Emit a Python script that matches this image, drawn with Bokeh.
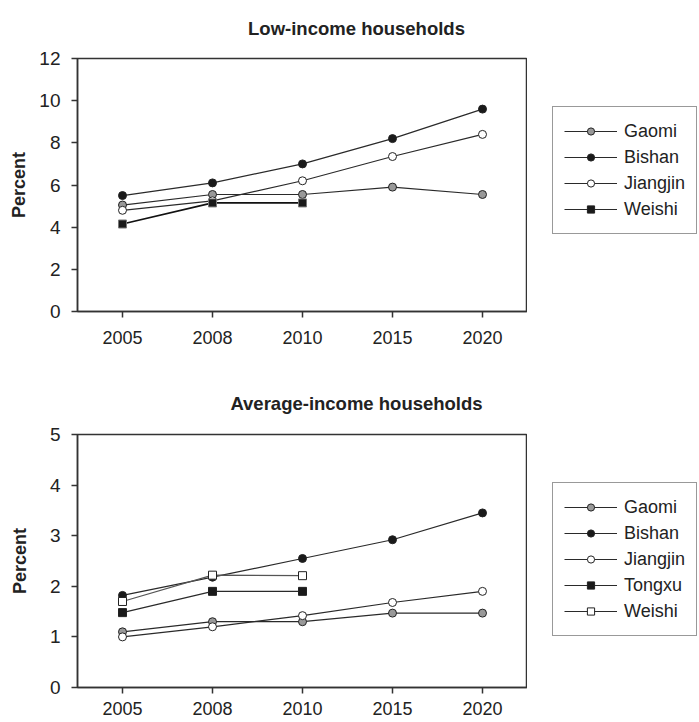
from bokeh.plotting import figure
from bokeh.models import (FactorRange, Range1d, Legend, LegendItem, FixedTicker,
                          ColumnDataSource)
from bokeh.layouts import column, row
from bokeh.core.properties import value
from bokeh.embed import file_html
from bokeh.resources import INLINE

years = ["2005", "2008", "2010", "2015", "2020"]

# Low-income households (percent)
low_gaomi = [5.05, 5.55, 5.55, 5.9, 5.55]
low_bishan = [5.5, 6.1, 7.0, 8.2, 9.6]
low_jiangjin = [4.8, 5.25, 6.2, 7.35, 8.4]
low_weishi = [4.15, 5.15, 5.15]

# Average-income households (percent)
avg_gaomi = [1.1, 1.3, 1.3, 1.47, 1.47]
avg_bishan = [1.82, 2.18, 2.55, 2.92, 3.45]
avg_jiangjin = [1.0, 1.2, 1.42, 1.68, 1.9]
avg_tongxu = [1.48, 1.9, 1.9]
avg_weishi = [1.7, 2.22, 2.21]

low_ticks = [0, 2, 4, 6, 8, 10, 12]
avg_ticks = [0, 1, 2, 3, 4, 5]

titles = ["Low-income households", "Average-income households"]

FONT = "Liberation Sans"
TXT = "#222222"
DARK = "#2a2a2a"
FS = "18px"


def blank_fig(width, height):
    p = figure(width=width, height=height, x_range=Range1d(0, width),
               y_range=Range1d(0, height), output_backend="svg",
               toolbar_location=None, x_axis_location=None, y_axis_location=None,
               min_border=0)
    p.xgrid.visible = False
    p.ygrid.visible = False
    p.outline_line_color = None
    p.background_fill_color = "white"
    p.border_fill_color = "white"
    return p


def title_strip(text, height, x, baseline):
    p = blank_fig(699, height)
    p.text(x=[x], y=[baseline], text=[text], text_font=value(FONT),
           text_font_size=value("18.5px"), text_font_style="bold",
           text_color=TXT, text_align="center", text_baseline="alphabetic")
    return p


def make_chart(height, border_top, border_bottom, ymax, ticks, label_standoff, x_standoff):
    p = figure(width=527, height=height, x_range=FactorRange(factors=years),
               y_range=Range1d(0, ymax), output_backend="svg", toolbar_location=None,
               min_border_left=77, min_border_right=0,
               min_border_top=border_top, min_border_bottom=border_bottom)
    p.xgrid.visible = False
    p.ygrid.visible = False
    p.outline_line_color = "#333333"
    p.outline_line_width = 1.5
    p.background_fill_color = "white"
    p.border_fill_color = "white"
    for ax in (p.xaxis[0], p.yaxis[0]):
        ax.axis_line_color = "#333333"
        ax.axis_line_width = 1.5
        ax.major_tick_line_color = "#333333"
        ax.major_tick_line_width = 1.5
        ax.major_tick_out = 6
        ax.major_tick_in = 0
        ax.minor_tick_line_color = None
        ax.major_label_text_font = FONT
        ax.major_label_text_font_size = FS
        ax.major_label_text_color = TXT
    p.yaxis[0].major_label_text_font_size = "19px"
    p.yaxis[0].ticker = FixedTicker(ticks=ticks)
    p.yaxis[0].major_label_standoff = 11
    p.yaxis[0].axis_label = "Percent"
    p.yaxis[0].axis_label_text_font = FONT
    p.yaxis[0].axis_label_text_font_size = FS
    p.yaxis[0].axis_label_text_font_style = "bold"
    p.yaxis[0].axis_label_text_color = TXT
    p.yaxis[0].axis_label_standoff = label_standoff
    p.xaxis[0].major_label_standoff = x_standoff
    return p


def series(p, xs, ys, marker, fill, mline="#222222", lcolor=DARK, lw=1.2):
    p.line(xs, ys, line_color=lcolor, line_width=lw)
    p.scatter(xs, ys, marker=marker, size=8, fill_color=fill,
              line_color=mline, line_width=1)


def legend_fig(height, specs, loc):
    p = blank_fig(172, height)
    items = []
    for label, marker, fill, mline, lcolor, lw in specs:
        # placeholder glyphs kept off-canvas; only their legend swatches show
        src = ColumnDataSource(data=dict(x=[-1000, -999], y=[-1000, -1000]))
        r1 = p.line("x", "y", source=src, line_color=lcolor, line_width=lw)
        r2 = p.scatter("x", "y", source=src, marker=marker, size=8,
                       fill_color=fill, line_color=mline, line_width=1)
        items.append(LegendItem(label=label, renderers=[r1, r2]))
    lg = Legend(items=items, location=loc, orientation="vertical",
                label_text_font=FONT, label_text_font_size=FS,
                label_text_color=TXT, glyph_width=53, glyph_height=18,
                label_height=26, label_standoff=7, spacing=0, padding=11,
                margin=0, border_line_color="#333333", border_line_width=1.2,
                background_fill_color="white", background_fill_alpha=1)
    p.add_layout(lg, "center")
    return p


# Top chart
t1 = title_strip(titles[0], 40, 356, 40 - 27.7)
c1 = make_chart(320, 18, 49, 12, low_ticks, 7, 13)
series(c1, years, low_gaomi, "circle", "#999999")
series(c1, years, low_bishan, "circle", "#1a1a1a")
series(c1, years, low_jiangjin, "circle", "white")
series(c1, years[:3], low_weishi, "square", "#1a1a1a", mline="#777777",
       lcolor="#111111", lw=1.7)
l1 = legend_fig(320, [
    ("Gaomi", "circle", "#999999", "#222222", DARK, 1.2),
    ("Bishan", "circle", "#1a1a1a", "#222222", DARK, 1.2),
    ("Jiangjin", "circle", "white", "#222222", DARK, 1.2),
    ("Weishi", "square", "#1a1a1a", "#222222", DARK, 1.2),
], (25, 77))

# Bottom chart
t2 = title_strip(titles[1], 60, 356, 60 - 42.7)
c2 = make_chart(302, 14, 35, 5, avg_ticks, 17, 8)
series(c2, years, avg_gaomi, "circle", "#999999")
series(c2, years, avg_bishan, "circle", "#1a1a1a")
series(c2, years, avg_jiangjin, "circle", "white")
series(c2, years[:3], avg_tongxu, "square", "#1a1a1a")
series(c2, years[:3], avg_weishi, "square", "white", lcolor="#555555")
l2 = legend_fig(302, [
    ("Gaomi", "circle", "#999999", "#222222", DARK, 1.2),
    ("Bishan", "circle", "#1a1a1a", "#222222", DARK, 1.2),
    ("Jiangjin", "circle", "white", "#222222", DARK, 1.2),
    ("Tongxu", "square", "#1a1a1a", "#222222", DARK, 1.2),
    ("Weishi", "square", "white", "#222222", DARK, 1.2),
], (25, 51))

layout = column(t1, row(c1, l1, spacing=0), t2, row(c2, l2, spacing=0), spacing=0)
open("out.html", "w").write(file_html(layout, INLINE))
